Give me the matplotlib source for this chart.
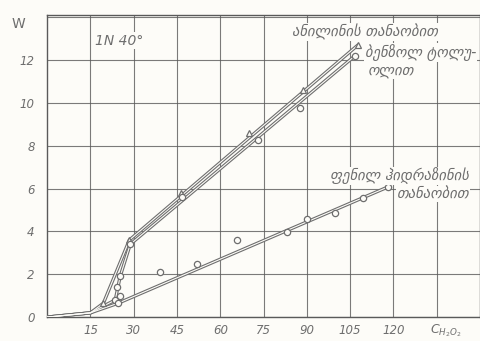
import matplotlib
matplotlib.use("Agg")
import matplotlib.pyplot as plt

# Concentration of H2O2 (x) and W (y)
# Aniline series (triangles)
tri_line_x = [0, 15, 19.5, 28.5, 107.7]
tri_line_y = [0, 0.2, 0.65, 3.6, 12.7]
tri_pts_x = [19.5, 28.5, 46.5, 70, 88.7, 107.7]
tri_pts_y = [0.65, 3.6, 5.8, 8.6, 10.6, 12.7]

# Benzene/toluene series (upper circles)
circ_line_x = [0, 15, 23.6, 25.3, 28.8, 106.7]
circ_line_y = [0, 0.2, 0.8, 1.9, 3.4, 12.2]
circ_pts_x = [23.6, 24.2, 25.3, 28.8, 46.8, 73, 87.6, 106.7]
circ_pts_y = [0.8, 1.4, 1.9, 3.4, 5.6, 8.26, 9.75, 12.2]

# Third series (lower circles)
low_line_x = [0, 15, 24.6, 118]
low_line_y = [0, 0.2, 0.65, 6.07]
low_pts_x = [24.6, 25.3, 39, 52, 65.8, 83, 90, 99.7, 109.5, 118]
low_pts_y = [0.65, 1.0, 2.1, 2.5, 3.6, 3.97, 4.6, 4.85, 5.55, 6.07]

x_ticks = [15, 30, 45, 60, 75, 90, 105, 120]
y_ticks = [0, 2, 4, 6, 8, 10, 12]

ink = "#6e6e6e"
grid_ink = "#5a5a5a"
paper = "#fdfcf8"

fig = plt.figure(figsize=(4.81, 3.41), dpi=100, facecolor=paper)
ax = fig.add_axes([0.098, 0.070, 0.900, 0.886], facecolor=paper)
ax.set_xlim(0, 150)
ax.set_ylim(0, 14.1)

ax.set_xticks(x_ticks + [135])
ax.set_yticks(y_ticks + [14])
ax.grid(True, color=grid_ink, lw=0.8, alpha=0.8)
ax.tick_params(length=0, colors=ink)
ax.set_xticklabels([str(v) for v in x_ticks] + [""], fontstyle="italic",
                   fontsize=8.5, color=ink)
ax.set_yticklabels([str(v) for v in y_ticks] + [""], fontstyle="italic",
                   fontsize=8.5, color=ink)
ax.tick_params(axis="y", pad=9)
ax.tick_params(axis="x", pad=5)
for s in ax.spines.values():
    s.set_color(grid_ink)
    s.set_linewidth(1.0)


def pencil(x, y):
    # double-stroke pencil line
    ax.plot(x, y, color=ink, lw=2.4, solid_capstyle="round", zorder=3)
    ax.plot(x, y, color=paper, lw=0.8, solid_capstyle="round", zorder=3.1)


pencil(tri_line_x, tri_line_y)
pencil(circ_line_x, circ_line_y)
pencil(low_line_x, low_line_y)

ax.plot(tri_pts_x, tri_pts_y, ls="none", marker="^", ms=5, mfc=paper,
        mec=ink, mew=0.9, zorder=4)
ax.plot(circ_pts_x, circ_pts_y, ls="none", marker="o", ms=4.5, mfc=paper,
        mec=ink, mew=0.9, zorder=4)
ax.plot(low_pts_x, low_pts_y, ls="none", marker="o", ms=4.5, mfc=paper,
        mec=ink, mew=0.9, zorder=4)

txt = dict(color=ink, fontstyle="italic", family=["DejaVu Sans"], zorder=5)
lab = dict(fontsize=10.5, va="center", ha="left",
           bbox=dict(fc=paper, ec="none", pad=0.5))
ax.text(16.5, 12.9, "1N 40°", fontsize=10, va="center", ha="left",
        bbox=dict(fc=paper, ec="none", pad=1), **txt)
ax.text(85, 13.3, "ანილინის თანაობით", **lab, **txt)
ax.text(110, 12.35, "ბენზოლ ტოლუ-", **lab, **txt)
ax.text(111, 11.5, "ოლით", **lab, **txt)
ax.text(98, 6.6, "ფენილ ჰიდრაზინის", **lab, **txt)
ax.text(121, 5.75, "თანაობით", **lab, **txt)

fig.text(12 / 481, 1 - 24 / 341, "W", fontsize=10, color=ink,
         ha="left", va="center")
fig.text(430 / 481, 1 - 331 / 341, r"$C_{H_2O_2}$", fontsize=9, color=ink,
         ha="left", va="center", fontstyle="italic")

fig.savefig("out.png", dpi=100, facecolor=paper)
